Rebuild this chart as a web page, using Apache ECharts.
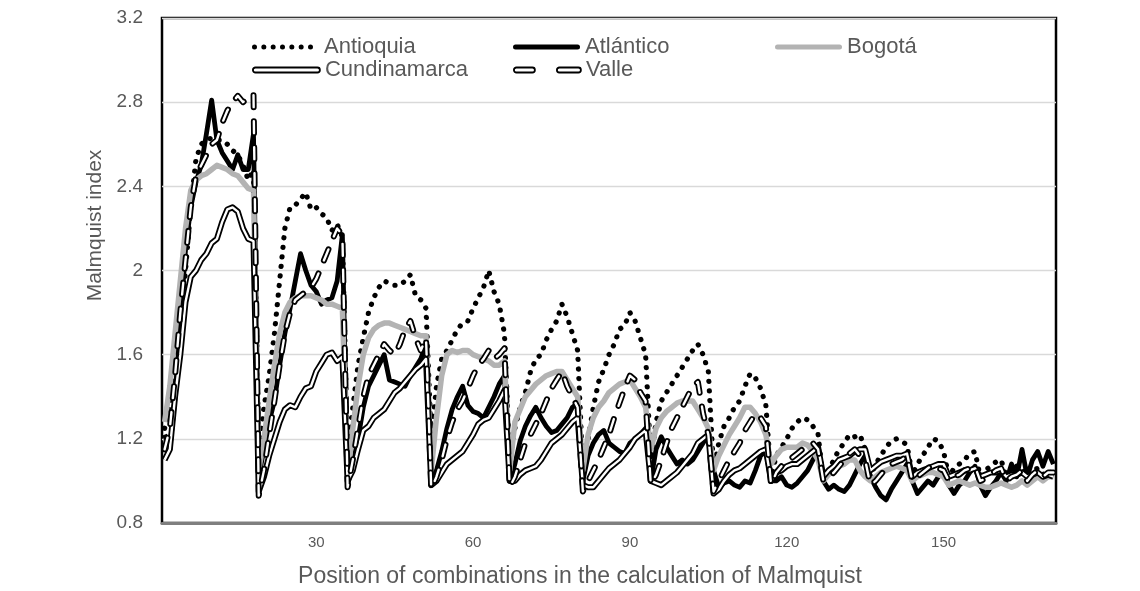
<!DOCTYPE html>
<html><head><meta charset="utf-8">
<script src="https://cdn.jsdelivr.net/npm/echarts@6/dist/echarts.min.js"></script>
<style>html,body{margin:0;padding:0;background:#fff}#chart{width:1140px;height:591px}</style>
</head><body><div id="chart"></div>
<script>
// ---- data (171 positions; groups of 18,17,...,1) ----
const categories = Array.from({length: 171}, (_, i) => String(i + 1));
const xTickLabels = ['30', '60', '90', '120', '150'];
const yMin = 0.8, yMax = 3.2, yStep = 0.4;

const antioquia = [
  1.25,1.35,1.5,1.72,2.0,2.3,2.53,2.6,2.62,2.63,2.62,2.62,2.6,2.57,2.55,2.5,2.43,2.48,
  1.15,1.35,1.5,1.7,1.95,2.2,2.3,2.31,2.34,2.37,2.29,2.3,2.27,2.25,2.19,2.22,2.16,
  1.12,1.35,1.55,1.68,1.8,1.87,1.92,1.95,1.94,1.93,1.93,1.95,1.98,1.88,1.86,1.82,
  1.2,1.45,1.58,1.62,1.67,1.72,1.75,1.76,1.82,1.87,1.92,2.0,1.9,1.84,1.7,
  1.1,1.25,1.35,1.42,1.52,1.58,1.6,1.67,1.72,1.76,1.84,1.78,1.7,1.62,
  1.05,1.2,1.35,1.47,1.53,1.6,1.65,1.72,1.74,1.8,1.76,1.68,1.6,
  1.1,1.28,1.38,1.42,1.46,1.5,1.54,1.58,1.62,1.65,1.6,1.52,
  1.05,1.18,1.26,1.3,1.35,1.38,1.45,1.51,1.49,1.44,1.36,
  1.02,1.12,1.16,1.2,1.25,1.28,1.3,1.29,1.26,1.22,
  1.0,1.05,1.1,1.15,1.18,1.22,1.21,1.22,1.15,
  1.02,1.08,1.12,1.16,1.19,1.2,1.19,1.17,
  1.03,1.08,1.12,1.16,1.2,1.19,1.14,
  1.02,1.06,1.08,1.1,1.13,1.14,
  1.02,1.05,1.07,1.09,1.1,
  1.02,1.05,1.07,1.06,
  1.02,1.05,1.06,
  1.03,1.05,
  1.03
];
const atlantico = [
  1.22,1.15,1.4,1.75,2.1,2.3,2.42,2.5,2.65,2.81,2.62,2.56,2.52,2.48,2.55,2.48,2.48,2.65,
  1.02,1.15,1.28,1.38,1.55,1.7,1.82,1.95,2.08,2.0,1.93,1.9,1.84,1.86,1.87,1.95,2.17,
  0.98,1.08,1.2,1.35,1.45,1.5,1.55,1.6,1.48,1.47,1.46,1.45,1.5,1.54,1.58,1.65,
  0.98,1.05,1.14,1.25,1.34,1.4,1.45,1.36,1.33,1.32,1.3,1.35,1.4,1.46,1.5,
  1.0,1.08,1.19,1.26,1.31,1.35,1.3,1.26,1.23,1.24,1.27,1.3,1.35,1.37,
  1.0,1.12,1.18,1.22,1.24,1.18,1.16,1.14,1.13,1.18,1.2,1.22,1.25,
  1.0,1.15,1.21,1.16,1.12,1.08,1.1,1.08,1.1,1.14,1.18,1.22,
  1.05,0.97,0.99,1.0,0.98,0.97,1.0,0.99,1.05,1.12,1.14,
  1.0,1.0,1.02,0.98,0.97,0.99,1.02,1.05,1.1,1.14,
  1.0,0.96,0.98,0.96,0.95,0.98,1.03,1.08,1.12,
  1.02,0.97,0.93,0.91,0.96,1.0,1.04,1.08,
  1.0,0.94,0.97,1.0,0.98,1.02,1.05,
  0.98,0.94,0.98,1.0,1.04,1.07,
  0.98,0.93,0.97,1.0,1.04,
  1.0,1.08,1.02,1.15,
  1.02,1.1,1.14,
  1.07,1.14,
  1.08
];
const bogota = [
  1.28,1.45,1.7,1.95,2.2,2.38,2.43,2.45,2.46,2.48,2.5,2.49,2.48,2.46,2.45,2.42,2.39,2.38,
  1.05,1.2,1.38,1.55,1.7,1.8,1.85,1.87,1.88,1.88,1.88,1.87,1.86,1.84,1.84,1.83,1.82,
  1.02,1.25,1.45,1.6,1.68,1.72,1.74,1.75,1.75,1.74,1.73,1.72,1.71,1.7,1.69,1.69,
  1.05,1.3,1.5,1.6,1.62,1.61,1.62,1.62,1.6,1.59,1.58,1.57,1.55,1.55,1.57,
  1.05,1.28,1.34,1.4,1.43,1.46,1.48,1.5,1.51,1.52,1.52,1.48,1.44,1.4,
  1.05,1.22,1.3,1.35,1.38,1.42,1.44,1.46,1.47,1.48,1.44,1.4,1.35,
  1.15,1.25,1.3,1.33,1.35,1.37,1.38,1.38,1.38,1.34,1.3,1.25,
  1.05,1.12,1.17,1.22,1.26,1.3,1.35,1.35,1.32,1.28,1.22,
  1.08,1.12,1.15,1.16,1.16,1.16,1.18,1.17,1.14,1.1,
  1.0,1.03,1.05,1.07,1.08,1.1,1.1,1.05,1.02,
  1.0,1.02,1.04,1.05,1.06,1.07,1.06,1.05,
  1.0,1.02,1.03,1.04,1.04,1.03,1.02,
  0.98,0.99,1.0,0.99,0.98,0.99,
  0.98,0.97,0.97,0.98,0.99,
  0.98,0.97,0.98,1.0,
  0.98,1.0,1.02,
  1.0,1.02,
  1.02
];
const cundinamarca = [
  1.1,1.15,1.4,1.6,1.85,1.97,2.0,2.05,2.08,2.13,2.15,2.23,2.29,2.3,2.28,2.2,2.15,2.14,
  0.95,1.02,1.12,1.2,1.28,1.34,1.36,1.35,1.4,1.44,1.45,1.52,1.56,1.6,1.61,1.57,1.59,
  1.0,1.05,1.15,1.24,1.26,1.3,1.32,1.34,1.38,1.42,1.44,1.47,1.5,1.53,1.55,1.58,
  0.98,1.0,1.04,1.08,1.1,1.12,1.14,1.18,1.22,1.27,1.29,1.3,1.34,1.38,1.43,
  1.0,1.0,1.03,1.05,1.06,1.07,1.1,1.14,1.18,1.2,1.22,1.25,1.28,1.3,
  0.98,0.97,0.97,1.0,1.03,1.06,1.08,1.1,1.13,1.16,1.2,1.22,1.24,
  1.0,0.99,0.98,1.0,1.02,1.04,1.07,1.1,1.13,1.18,1.2,1.22,
  0.94,0.96,1.0,1.03,1.05,1.06,1.08,1.1,1.12,1.14,1.15,
  1.0,1.04,1.05,1.07,1.08,1.08,1.1,1.12,1.14,1.16,
  1.02,1.05,1.07,1.1,1.11,1.12,1.14,1.15,1.15,
  1.05,1.07,1.09,1.1,1.11,1.12,1.12,1.13,
  1.02,1.04,1.05,1.06,1.07,1.08,1.08,
  1.02,1.03,1.04,1.05,1.05,1.06,
  1.02,1.03,1.04,1.04,1.05,
  1.02,1.03,1.03,1.04,
  1.02,1.03,1.04,
  1.02,1.03,
  1.02
];
const valle = [
  1.15,1.25,1.5,1.8,2.05,2.3,2.45,2.5,2.55,2.6,2.62,2.7,2.76,2.8,2.83,2.8,2.82,2.84,
  0.93,1.05,1.22,1.38,1.55,1.7,1.8,1.86,1.88,1.9,1.92,1.96,2.02,2.08,2.14,2.2,2.17,
  0.97,1.1,1.25,1.4,1.5,1.55,1.6,1.65,1.62,1.6,1.65,1.72,1.76,1.68,1.62,1.68,
  0.96,1.02,1.1,1.2,1.28,1.34,1.38,1.44,1.5,1.55,1.58,1.62,1.58,1.6,1.63,
  0.97,1.02,1.1,1.18,1.22,1.27,1.32,1.38,1.44,1.48,1.52,1.45,1.4,1.35,
  0.95,1.0,1.05,1.1,1.16,1.22,1.3,1.37,1.44,1.5,1.48,1.42,1.38,
  0.98,1.03,1.1,1.18,1.25,1.3,1.35,1.4,1.45,1.47,1.32,1.22,
  0.95,1.0,1.05,1.1,1.14,1.18,1.24,1.28,1.32,1.3,1.26,
  0.98,1.04,1.07,1.09,1.11,1.13,1.15,1.17,1.18,1.15,
  1.0,1.02,1.04,1.07,1.1,1.13,1.15,1.12,1.1,
  0.98,1.0,1.03,1.06,1.08,1.09,1.1,1.12,
  1.0,1.02,1.04,1.06,1.08,1.06,1.05,
  1.0,1.02,1.03,1.05,1.06,1.07,
  1.0,1.01,1.03,1.05,1.06,
  1.0,1.02,1.03,1.05,
  1.0,1.03,1.05,
  1.02,1.04,
  1.04
];

// ---- styling ----
const FONT = '"Liberation Sans", Arial, sans-serif';
const TXT = '#595959';
const GREY = '#b3b3b3';

function capsule(x0, x1, h) {
  const r = h / 2;
  return `M${x0 + r},0 L${x1 - r},0 A${r},${r} 0 0 1 ${x1 - r},${h} L${x0 + r},${h} A${r},${r} 0 0 1 ${x0 + r},0 Z `;
}
function dots(n, d, w) {
  let s = '';
  const step = (w - d) / (n - 1), r = d / 2;
  for (let k = 0; k < n; k++) {
    const cx = r + k * step;
    s += `M${cx - r},${r} A${r},${r} 0 1 1 ${cx + r},${r} A${r},${r} 0 1 1 ${cx - r},${r} Z `;
  }
  return s;
}
function legendBox(name, left, rowY, w, h, icon, itemStyle, padLeft) {
  return {
    show: true, left: left, top: rowY - 12, padding: 0, itemGap: 0,
    itemWidth: w, itemHeight: h, selectedMode: false, symbolKeepAspect: false,
    data: [{ name: name, icon: 'path://' + icon, itemStyle: itemStyle }],
    textStyle: { color: TXT, fontSize: 22, fontFamily: FONT, lineHeight: 24, padding: [0, 0, 0, padLeft || 0] }
  };
}

const base = { type: 'line', symbol: 'none', showSymbol: false, silent: true, animation: false,
  emphasis: { disabled: true }, connectNulls: false };

const option = {
  animation: false,
  backgroundColor: '#fff',
  grid: { left: 162, right: 84, top: 18, bottom: 68, show: true, borderColor: '#000', borderWidth: 2.5,
          backgroundColor: 'transparent', containLabel: false, outerBoundsMode: 'none' },
  legend: [
    legendBox('Antioquia', 252, 47, 61, 5, dots(7, 5, 61), { color: '#000', borderWidth: 0 }, 6),
    legendBox('Atlántico', 513, 47, 67, 5, capsule(0, 67, 5), { color: '#000', borderWidth: 0 }),
    legendBox('Bogotá', 775, 47, 67, 5, capsule(0, 67, 5), { color: GREY, borderWidth: 0 }),
    legendBox('Cundinamarca', 252, 70, 67, 5, capsule(0, 67, 5), { color: '#fff', borderColor: '#000', borderWidth: 1.8 }),
    legendBox('Valle', 513, 70, 67, 5, capsule(0, 21, 5) + capsule(43, 67, 5), { color: '#fff', borderColor: '#000', borderWidth: 1.8 })
  ],
  xAxis: {
    type: 'category', data: categories, boundaryGap: true,
    axisLine: { show: true, lineStyle: { color: '#7f7f7f', width: 3 } },
    axisTick: { show: false },
    axisLabel: { interval: (idx, val) => xTickLabels.includes(val), color: TXT, fontSize: 15, fontFamily: FONT, margin: 12 },
    splitLine: { show: false },
    name: 'Position of combinations in the calculation of Malmquist',
    nameLocation: 'middle', nameGap: 42,
    nameTextStyle: { color: TXT, fontSize: 23, fontFamily: FONT, padding: [0, 58, 0, 0] }
  },
  yAxis: {
    type: 'value', min: yMin, max: yMax, interval: yStep,
    axisLine: { show: false }, axisTick: { show: false },
    axisLabel: { color: TXT, fontSize: 19, fontFamily: FONT, margin: 19 },
    splitLine: { lineStyle: { color: '#d9d9d9', width: 1.3 } },
    name: 'Malmquist index', nameLocation: 'middle', nameGap: 38, nameRotate: 90,
    nameTextStyle: { color: TXT, fontSize: 21, fontFamily: FONT, padding: [0, 0, 0, 90] }
  },
  series: [
    Object.assign({}, base, { name: 'Antioquia', data: antioquia, z: 3,
      itemStyle: { color: '#000' },
      lineStyle: { color: '#000', width: 5.2, type: [0.1, 9.5], cap: 'round', join: 'round' } }),
    Object.assign({}, base, { name: 'Atlántico', data: atlantico, z: 3,
      itemStyle: { color: '#000' },
      lineStyle: { color: '#000', width: 4.8, join: 'round' } }),
    Object.assign({}, base, { name: 'Bogotá', data: bogota, z: 3,
      itemStyle: { color: GREY },
      lineStyle: { color: GREY, width: 5.5, join: 'round' } }),
    Object.assign({}, base, { name: 'Cundinamarca', data: cundinamarca, z: 3,
      itemStyle: { color: '#000' },
      lineStyle: { color: '#000', width: 6, join: 'round' } }),
    Object.assign({}, base, { name: 'Cundinamarca (inner)', data: cundinamarca, z: 3,
      itemStyle: { color: '#fff' },
      lineStyle: { color: '#fff', width: 2.4, join: 'round' } }),
    Object.assign({}, base, { name: 'Valle', data: valle, z: 3,
      itemStyle: { color: '#000' },
      lineStyle: { color: '#000', width: 6, type: [12, 14], cap: 'round', join: 'round' } }),
    Object.assign({}, base, { name: 'Valle (inner)', data: valle, z: 3,
      itemStyle: { color: '#fff' },
      lineStyle: { color: '#fff', width: 2.4, type: [12, 14], cap: 'round', join: 'round' } })
  ]
};

const chart = echarts.init(document.getElementById('chart'), null, { renderer: 'canvas' });
chart.setOption(option);
</script>
</body></html>
